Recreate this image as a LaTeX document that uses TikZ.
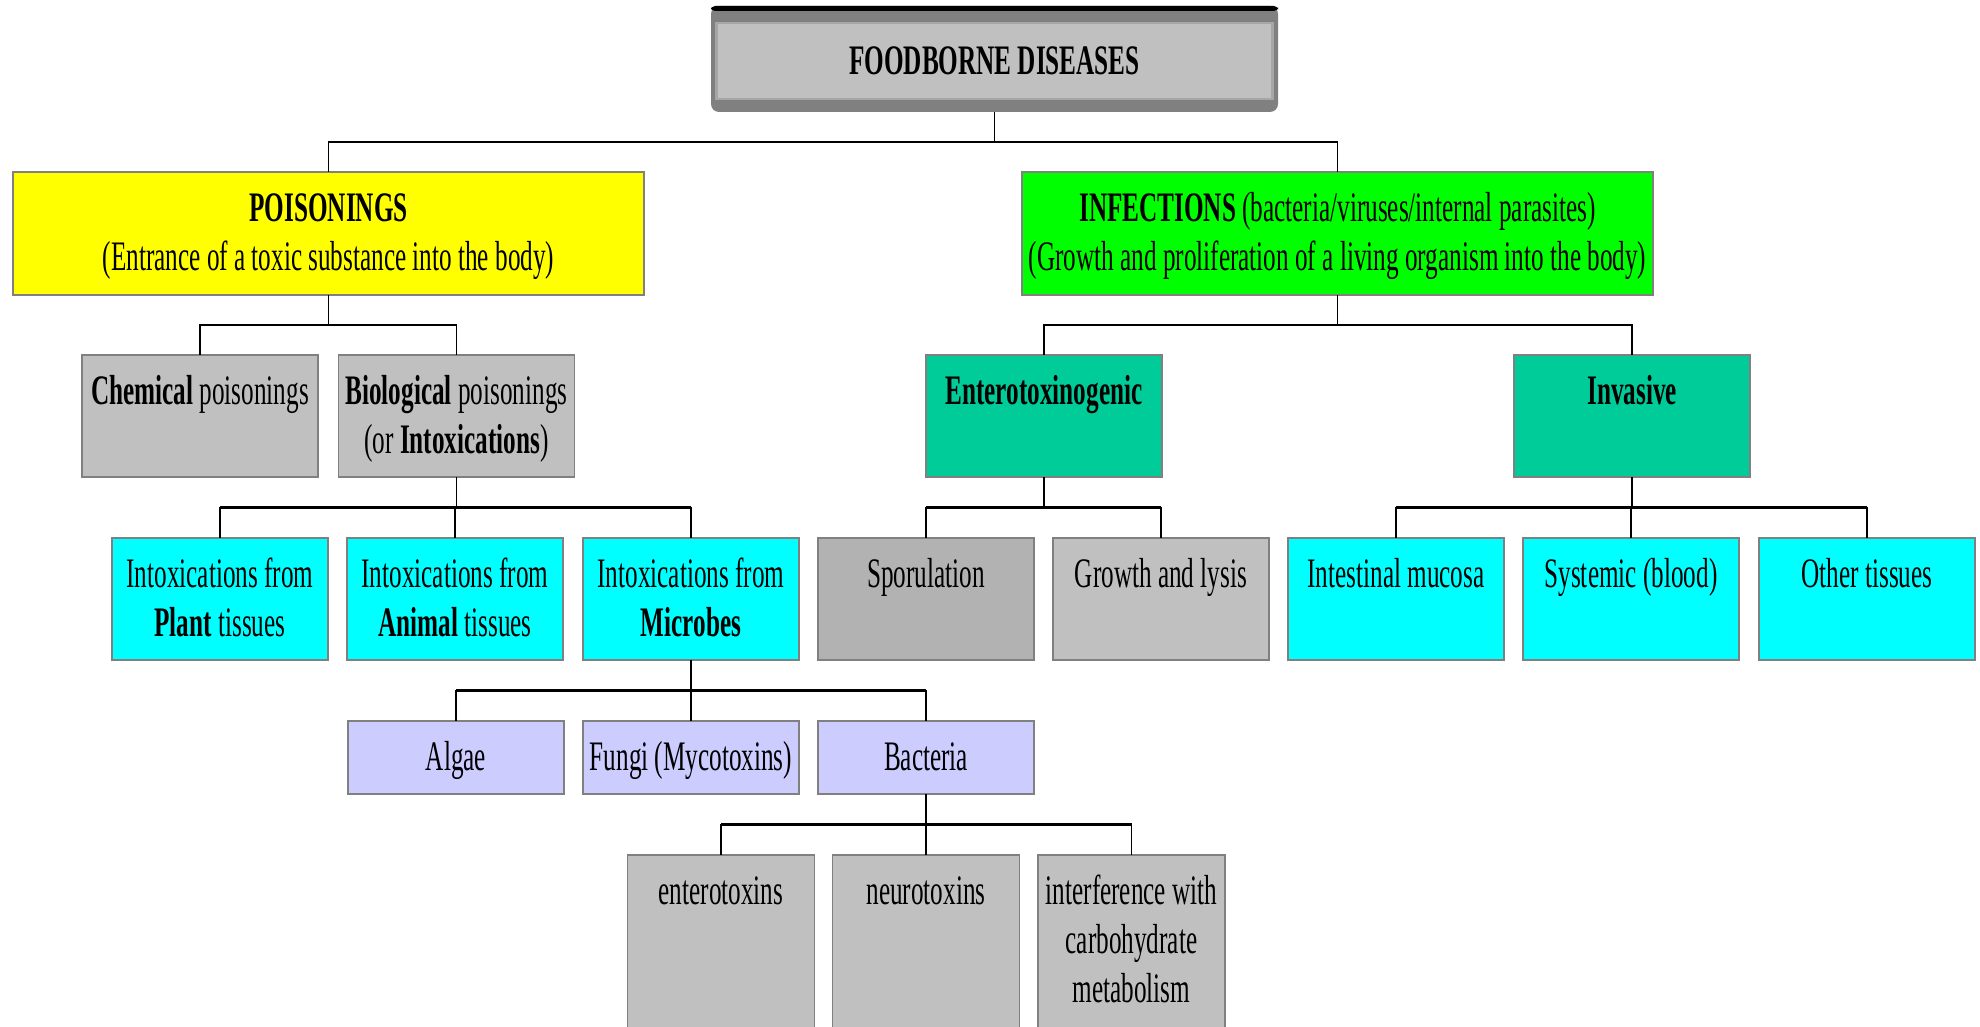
\documentclass[tikz,border=0pt]{standalone}
\usepackage{fontspec}
\setmainfont{Liberation Serif}[FakeStretch=0.6]
\usetikzlibrary{calc}
\definecolor{bord}{HTML}{808080}
\definecolor{lgray}{HTML}{C0C0C0}
\definecolor{dgray}{HTML}{B2B2B2}
\definecolor{yel}{HTML}{FFFF00}
\definecolor{grn}{HTML}{00FF00}
\definecolor{tealb}{HTML}{00CC99}
\definecolor{cyanb}{HTML}{00FFFF}
\definecolor{lav}{HTML}{CCCCFF}
\definecolor{inbord}{HTML}{A6A6A6}
\newcommand\fstrut{\rule{0pt}{17pt}}
\begin{document}
\begin{tikzpicture}[x=0.5pt,y=-0.5pt,
  box/.style={draw=bord, line width=0.8pt, anchor=north, inner sep=0pt, outer sep=0pt},
  txt/.style={anchor=north, inner sep=0pt, align=center, font=\fontsize{21pt}{24.5pt}\selectfont},
  conn/.style={line width=0.7pt},
  bus/.style={line width=1.4pt},
  elbow/.style={to path={(\tikztostart) |- ($(\tikztostart)!0.5!(\tikztotarget)$) -| (\tikztotarget)}}]
\useasboundingbox (0,0) rectangle (1980,1027);
\clip (0,0) rectangle (1980,1027);

% top box
\node[fill=bord, rounded corners=4pt, minimum width=283.5pt, minimum height=53pt, inner sep=0pt, outer sep=0pt] (top) at (994.5,59) {};
\fill[black, rounded corners=2pt] (top.north west) rectangle ($(top.north east)+(0,5)$);
\node[fill=lgray, draw=inbord, line width=1.4pt, minimum width=278pt, minimum height=38pt, inner sep=0pt] (topin) at (994.5,61) {};
\node[txt, anchor=base] (topT) at (994.5,75) {\textbf{FOODBORNE DISEASES}};

% level 1
\node[box, fill=yel, minimum width=315.5pt, minimum height=61.5pt] (pois) at (328.5,172) {};
\node[box, fill=grn, minimum width=315.5pt, minimum height=61.5pt] (inf) at (1337.5,172) {};
\node[txt] (poisT) at ($(pois.north)+(0,15)$) {\fstrut\textbf{POISONINGS}\\(Entrance of a toxic substance into the body)};
\node[txt] (infT) at ($(inf.north)+(0,15)$) {\fstrut\textbf{INFECTIONS} (bacteria/viruses/internal parasites)\\(Growth and proliferation of a living organism into the body)};

% level 2
\node[box, fill=lgray, minimum width=118pt, minimum height=61pt] (chem) at (200,355) {};
\node[box, fill=lgray, minimum width=118pt, minimum height=61pt] (bio) at (456.5,355) {};
\node[box, fill=tealb, minimum width=118pt, minimum height=61pt] (ent) at (1044,355) {};
\node[box, fill=tealb, minimum width=118pt, minimum height=61pt] (inv) at (1632,355) {};
\node[txt] (chemT) at ($(chem.north)+(0,15.5)$) {\fstrut\textbf{Chemical} poisonings};
\node[txt] (bioT) at ($(bio.north)+(0,15.5)$) {\fstrut\textbf{Biological} poisonings\\(or \textbf{Intoxications})};
\node[txt] (entT) at ($(ent.north)+(0,15.5)$) {\fstrut\textbf{Enterotoxinogenic}};
\node[txt] (invT) at ($(inv.north)+(0,15.5)$) {\fstrut\textbf{Invasive}};

% level 3
\node[box, fill=cyanb, minimum width=108pt, minimum height=61pt] (plant) at (220,538) {};
\node[box, fill=cyanb, minimum width=108pt, minimum height=61pt] (animal) at (455,538) {};
\node[box, fill=cyanb, minimum width=108pt, minimum height=61pt] (micro) at (691,538) {};
\node[box, fill=dgray, minimum width=108pt, minimum height=61pt] (spor) at (926,538) {};
\node[box, fill=lgray, minimum width=108pt, minimum height=61pt] (growth) at (1161,538) {};
\node[box, fill=cyanb, minimum width=108pt, minimum height=61pt] (intest) at (1396,538) {};
\node[box, fill=cyanb, minimum width=108pt, minimum height=61pt] (syst) at (1631,538) {};
\node[box, fill=cyanb, minimum width=108pt, minimum height=61pt] (other) at (1867,538) {};
\node[txt] (plantT) at ($(plant.north)+(0,15.5)$) {\fstrut Intoxications from\\\textbf{Plant} tissues};
\node[txt] (animalT) at ($(animal.north)+(0,15.5)$) {\fstrut Intoxications from\\\textbf{Animal} tissues};
\node[txt] (microT) at ($(micro.north)+(0,15.5)$) {\fstrut Intoxications from\\\textbf{Microbes}};
\node[txt] (sporT) at ($(spor.north)+(0,15.5)$) {\fstrut Sporulation};
\node[txt] (growthT) at ($(growth.north)+(0,15.5)$) {\fstrut Growth and lysis};
\node[txt] (intestT) at ($(intest.north)+(0,15.5)$) {\fstrut Intestinal mucosa};
\node[txt] (systT) at ($(syst.north)+(0,15.5)$) {\fstrut Systemic (blood)};
\node[txt] (otherT) at ($(other.north)+(0,15.5)$) {\fstrut Other tissues};

% level 4
\node[box, fill=lav, minimum width=108pt, minimum height=36.5pt] (algae) at (456,721) {};
\node[box, fill=lav, minimum width=108pt, minimum height=36.5pt] (fungi) at (691,721) {};
\node[box, fill=lav, minimum width=108pt, minimum height=36.5pt] (bact) at (926,721) {};
\node[txt] (algaeT) at ($(algae.north)+(0,15.5)$) {\fstrut Algae};
\node[txt] (fungiT) at ($(fungi.north)+(0,15.5)$) {\fstrut Fungi (Mycotoxins)};
\node[txt] (bactT) at ($(bact.north)+(0,15.5)$) {\fstrut Bacteria};

% level 5
\node[box, fill=lgray, minimum width=93.5pt, minimum height=100pt] (entx) at (721,855) {};
\node[box, fill=lgray, minimum width=93.5pt, minimum height=100pt] (neur) at (926,855) {};
\node[box, fill=lgray, minimum width=93.5pt, minimum height=100pt] (interf) at (1131.5,855) {};
\node[txt] (entxT) at ($(entx.north)+(0,15.5)$) {\fstrut enterotoxins};
\node[txt] (neurT) at ($(neur.north)+(0,15.5)$) {\fstrut neurotoxins};
\node[txt] (interfT) at ($(interf.north)+(0,15.5)$) {\fstrut interference with\\carbohydrate\\metabolism};

% connectors
\foreach \p/\c in {top/pois, top/inf, pois/chem, pois/bio, inf/ent, inf/inv,
  bio/plant, bio/animal, bio/micro, ent/spor, ent/growth, inv/intest, inv/syst, inv/other,
  micro/algae, micro/fungi, micro/bact, bact/entx, bact/neur, bact/interf}
  \draw[conn] (\p.south) to[elbow] (\c.north);

% thicker horizontal buses
\coordinate (m0) at ($(top.south)!0.5!(pois.north)$);
\coordinate (m1) at ($(pois.south)!0.5!(chem.north)$);
\coordinate (m2) at ($(bio.south)!0.5!(plant.north)$);
\coordinate (m3) at ($(micro.south)!0.5!(algae.north)$);
\coordinate (m4) at ($(bact.south)!0.5!(entx.north)$);
\draw[bus] (pois.north |- m0) -- (inf.north |- m0);
\draw[bus] (chem.north |- m1) -- (bio.north |- m1);
\draw[bus] (ent.north |- m1) -- (inv.north |- m1);
\draw[bus] (plant.north |- m2) -- (micro.north |- m2);
\draw[bus] (spor.north |- m2) -- (growth.north |- m2);
\draw[bus] (intest.north |- m2) -- (other.north |- m2);
\draw[bus] (algae.north |- m3) -- (bact.north |- m3);
\draw[bus] (entx.north |- m4) -- (interf.north |- m4);
\end{tikzpicture}
\end{document}
